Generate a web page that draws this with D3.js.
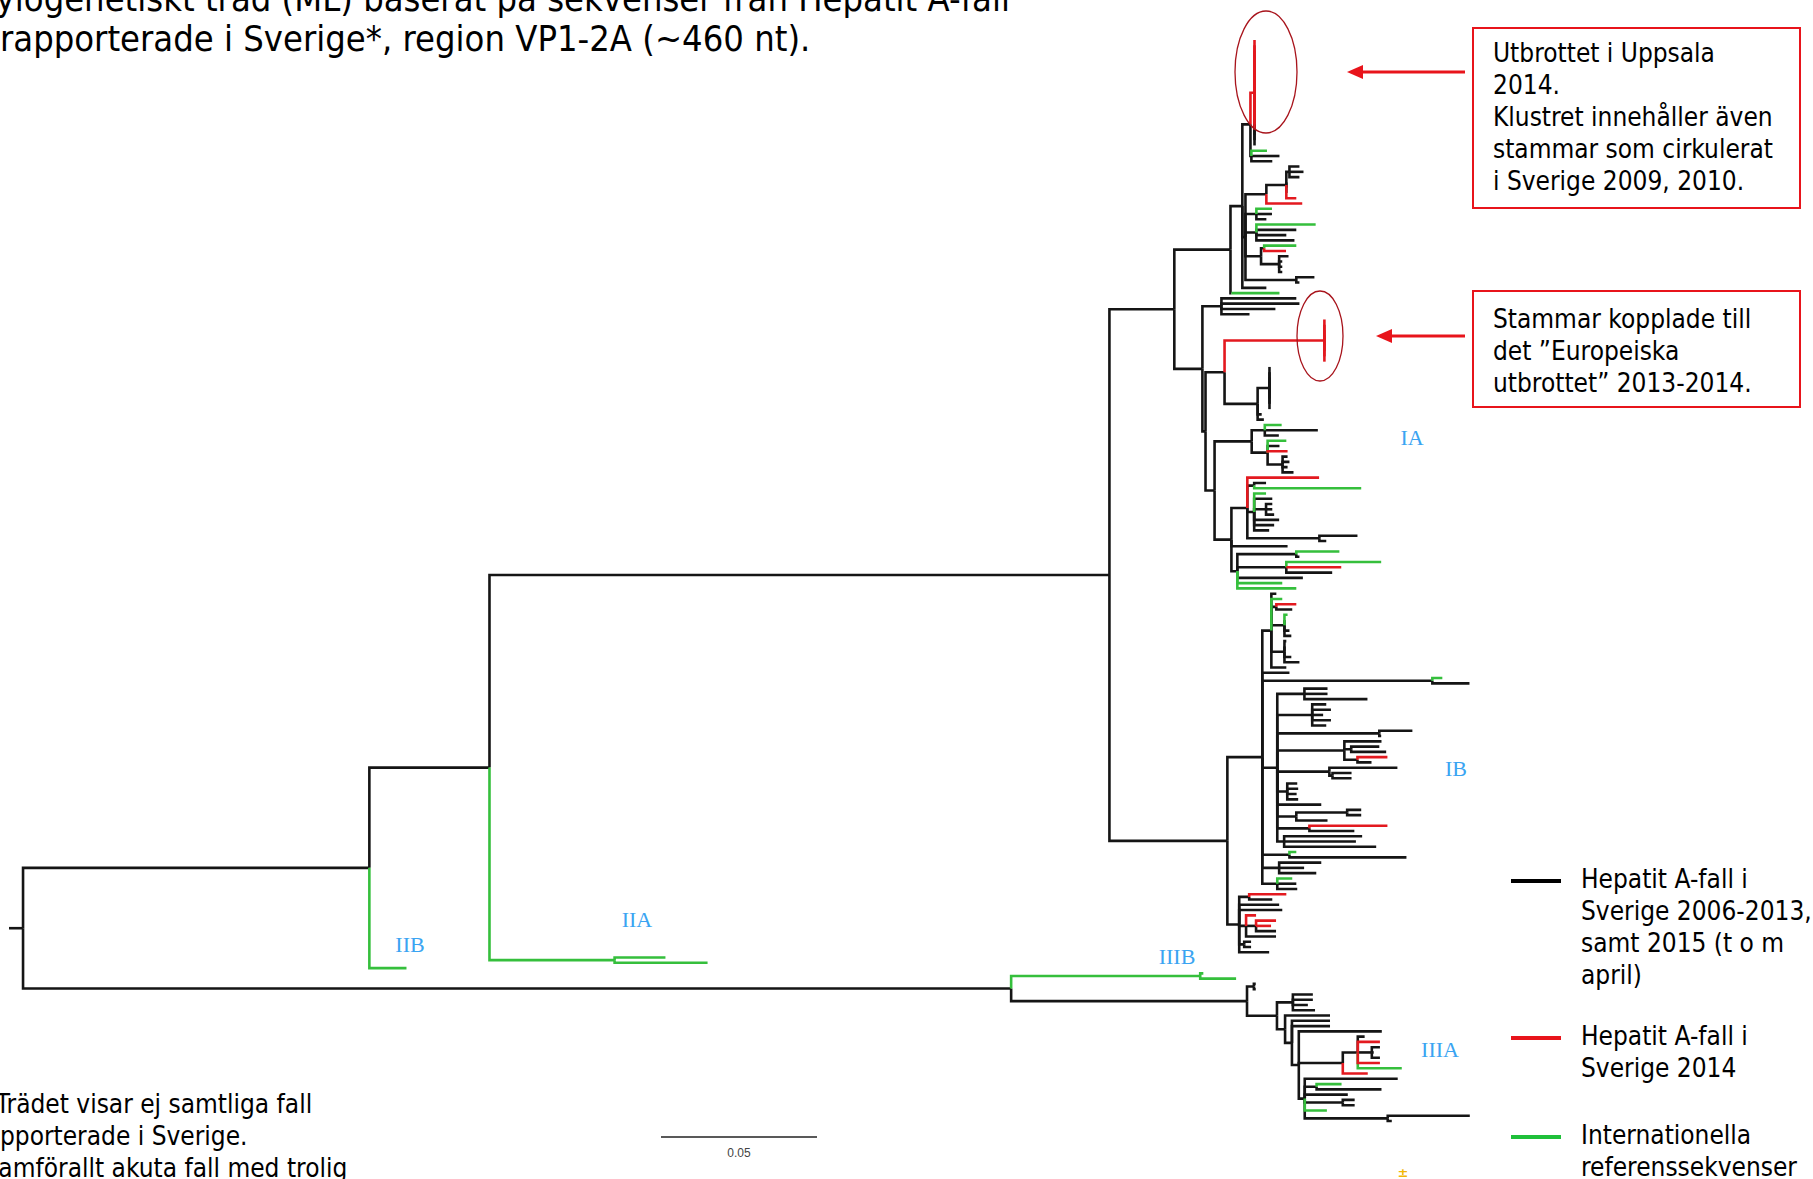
<!DOCTYPE html>
<html>
<head>
<meta charset="utf-8">
<script src="https://cdn.jsdelivr.net/npm/d3@7"></script>
<style>
html,body{margin:0;padding:0;background:#fff;overflow:hidden}
</style>
</head>
<body>
<svg id="chart" width="1813" height="1179"></svg>
<script>
// ================= DATA =================
// Tree in Newick form. Branch lengths: substitutions/site.
// Leaf / branch codes: k = Hepatit A-fall i Sverige 2006-2013, 2015;  r = Sverige 2014;  g = internationell referens.
// "*n" = n identical sequences.

// --- genotype IA ---
const ia_uppsala = "(r*18:0,k*3:0)r:0.0013";
const ia_small   = "(g:0.005,k:0.009,k:0.0067)k:0.0003";
const ia_N1      = `(${ia_uppsala},${ia_small})k:0.0026`;
const ia_RF      = "(((k:0.0032,k:0.0045,k:0.0032)k:0.001,k*3:0,r:0.0032)k:0.0064,r:0.0115)k:0.0067";
const ia_S1      = `(${ia_RF},(g:0.005,k:0.005,k:0.0032)k:0.0035,(g:0.019,k:0.0128,k:0.0096,k:0.0122)k:0.0035,((g:0.0103,r:0.007)k:0.001,(k:0.003,k:0.001,k:0.001,k:0.001)k:0.0058)k:0.005,(k:0.0058,k:0.001)k:0.0163)k:0.001`;
const ia_P1      = `((${ia_N1},${ia_S1},k:0.0077)k:0.0038,(g:0.0154)k:0.0003)k:0.018`;
const ia_T       = "(k:0.024,k:0.025,k:0.0173,k:0.009)k:0.0061";
const ia_europe  = "(r*9:0)r:0.032";
const ia_X       = "((k*9:0)k:0.0038,k:0.0013,k:0.002)k:0.0106";
const ia_W       = `(${ia_europe},${ia_X})k:0.0061`;
const ia_Z1      = "((g:0.0054,k:0.017,k:0.0045)k:0.0042,(g:0.006,k:0.0038,r:0.0064,(k:0.0016,k:0.0022,k:0.0016,k:0.0035)k:0.0048)k:0.0051)k:0.0119";
const ia_Z3      = "(r:0.023,(k:0.0038,g:0.0343)k:0.0022,(g:0.0038,k:0.0058,(k:0.002,k:0.002,k:0.0026)k:0.0038,k:0.008,k:0.0064,k:0.0048)k:0.0022,(k:0.0122,k:0.0022)k:0.0231)k:0.0051";
const ia_Z4      = "((g:0.0138,k:0.001)k:0.0189,(g:0.0304,r:0.0176,k:0.0147)k:0.0157,k:0.021,g:0.0144,g:0.0189)k:0.0019";
const ia_Z2      = `(${ia_Z3},k:0.018,${ia_Z4})k:0.0054`;
const ia_V       = `(${ia_Z1},${ia_Z2})k:0.0029`;
const ia_P2      = `(${ia_T},(${ia_W},${ia_V})k:0.001)k:0.009`;
const cladeIA    = `(${ia_P1},${ia_P2})k:0.0208`;

// --- genotype IB ---
const ib_G    = "(k:0.0016,g:0.0035,(r:0.0064,k:0.0051)k:0.0016,(g:0.001,k*2:0,k:0.0016,k:0.0022)k:0.0042,(k:0.0006,k*2:0,k:0.0022,k:0.0048)k:0.0042,k:0.0048)k:0.0029";
const ib_long = "(g:0.0032,k:0.0119)k:0.0545";
const ib_H    = "((k*2:0.0074,k:0.0202)k:0.0087,(k:0.0045,k:0.006,k:0.0035,k:0.006,k:0.0045)k:0.0112,(k:0.0106,k:0.0006)k:0.0327,(k:0.0119,(k:0.009,k:0.0112)k:0.0022,(r:0.0096,k:0.0045)k:0.0042)k:0.0215,(k:0.0218,(k:0.0061,k:0.0061)k:0.001)k:0.0167,(k:0.0032,k:0.0035,k:0.003,k:0.0035)k:0.0032,k:0.0141,((k:0.0045,k:0.0045)k:0.0163,k:0.01)k:0.0061,(r:0.025,k:0.0144)k:0.0103,(k:0.025,k:0.023,k:0.0295)k:0.0022)k:0.0048";
const ib_F    = `(${ib_G},k:0.0087,${ib_long},${ib_H},(g:0.0022,k:0.0375)k:0.0087,(k:0.0135,k:0.008,k:0.0119)k:0.0054,(g:0.0048,k:0.0061,k:0.0064)k:0.0048)k:0.0112`;
const ib_low  = "((r:0.0119,k:0.0074)k:0.0032,k:0.0128,k:0.0138,(r:0.0032,(r:0.0064,r:0.0048,k:0.0064)k:0.0032,k:0.0096)k:0.0022,(k:0.0022,k:0.0022)k:0.0016,k:0.0096)k:0.0038";
const cladeIB = `(${ib_F},${ib_low})k:0.0378`;

// --- genotypes II ---
const cladeIIA = "(g:0.0163,g:0.0298)g:0.0401";
const cladeIIB = "g:0.0119";

// --- genotype III ---
const cladeIIIB = "(g:0.001,g:0.0115)g:0.0606";
const iiia_N6  = "(k:0.0022,r:0.0071,(k:0.0026,k:0.0006,k:0.0026)k:0.0045,r:0.0071,g:0.0141)k:0.0048";
const iiia_N7  = "(k:0.0298,(g:0.008,k:0.0208)k:0.0038,k:0.0138,(k:0.0038,k:0.0038)k:0.0122,g:0.0071,(k:0.0263,k:0.0013)k:0.0266)k:0.0019";
const iiia_N4  = `(k:0.0266,(${iiia_N6},r:0.008)k:0.0141,${iiia_N7})k:0.0022`;
const iiia_N1  = `((k:0.0064,k:0.0064,k:0.0048,k:0.0071)k:0.0051,(k:0.0144,(k*2:0.0122,${iiia_N4})k:0.0022)k:0.0026)k:0.0096`;
const cladeIIIA = `((k:0.0006,k:0.0006)k:0.0022,${iiia_N1})k:0.0756`;

const treeNewick = `((((${cladeIA},${cladeIB})k:0.1987,${cladeIIA})k:0.0385,${cladeIIB})k:0.111,(${cladeIIIB},${cladeIIIA})k:0.3167)k:0.0045;`;

const cladeLabels = ["IA", "IB", "IIA", "IIB", "IIIB", "IIIA"];
const scaleBarValue = 0.05;
const scaleBarLabel = "0.05";
const legendCodes = ["k", "r", "g"];
const legendLabels = [
  ["Hepatit A-fall i", "Sverige 2006-2013,", "samt 2015 (t o m", "april)"],
  ["Hepatit A-fall i", "Sverige 2014"],
  ["Internationella", "referenssekvenser"]
];
const titleLines = ["Fylogenetiskt träd (ML) baserat på sekvenser från Hepatit A-fall",
                    "rapporterade i Sverige*, region VP1-2A (~460 nt)."];
const footnoteLines = ["*Trädet visar ej samtliga fall", "rapporterade i Sverige.", "Framförallt akuta fall med trolig"];
const note1Lines = ["Utbrottet i Uppsala", "2014.", "Klustret innehåller även", "stammar som cirkulerat", "i Sverige 2009, 2010."];
const note2Lines = ["Stammar kopplade till", "det \u201DEuropeiska", "utbrottet\u201D 2013-2014."];

// ================= STYLE / LAYOUT =================
const colorOf = { k: "#151515", r: "#e3191f", g: "#35bf3c" };
const legendColor = { k: "#000000", r: "#e8141b", g: "#1fc03a" };
const drawOrder = { k: 0, g: 1, r: 2 };
const labelBlue = "#3aa4f2";
const noteRed = "#e8141b";
const textFont = "'DejaVu Sans', Verdana, sans-serif";

// ================= PARSER =================
function parseNewick(str) {
  const s = str.replace(/\s+/g, "").replace(/;$/, "");
  let i = 0;
  function node() {
    let children = null;
    if (s[i] === "(") {
      i++; children = [];
      for (;;) {
        children.push(...node());
        if (s[i] === ",") { i++; continue; }
        if (s[i] === ")") { i++; break; }
        throw new Error("Newick error at " + i);
      }
    }
    let label = "";
    while (i < s.length && !",():".includes(s[i])) label += s[i++];
    let len = 0;
    if (s[i] === ":") {
      i++; let num = "";
      while (i < s.length && !",()".includes(s[i])) num += s[i++];
      len = +num;
    }
    const parts = label.split("*");
    const code = parts[0] || "k";
    const mult = parts[1] ? +parts[1] : 1;
    const out = [];
    for (let m = 0; m < mult; m++) out.push({ code, len, children });
    return out;
  }
  return node()[0];
}

// ================= LAYOUT =================
const root = d3.hierarchy(parseNewick(treeNewick), d => d.children);
root.each(d => { d.dist = (d.parent ? d.parent.dist : 0) + d.data.len; });
const leaves = root.leaves();
leaves.forEach((d, i) => d.slot = i);
root.eachAfter(d => {
  if (d.children) d.slot = (d.children[0].slot + d.children[d.children.length - 1].slot) / 2;
});

const x = d3.scaleLinear().domain([0, scaleBarValue]).range([9, 165]);
const y = d3.scaleLinear().domain([0, leaves.length - 1]).range([40, 1121]);

const svg = d3.select("#chart");
svg.append("rect").attr("width", 1813).attr("height", 1179).attr("fill", "#fff");

// ---- tree ----
const gTree = svg.append("g").attr("fill", "none").attr("stroke-width", 2.6).attr("stroke-linejoin", "miter");
gTree.append("path")
  .attr("d", `M${x(0)},${y(root.slot)}H${x(root.dist)}`)
  .attr("stroke", colorOf.k);
const links = root.links().sort((a, b) => drawOrder[a.target.data.code] - drawOrder[b.target.data.code]);
gTree.selectAll("path.link").data(links).join("path")
  .attr("class", "link")
  .attr("d", l => `M${x(l.source.dist)},${y(l.source.slot)}V${y(l.target.slot)}H${x(l.target.dist)}`)
  .attr("stroke", l => colorOf[l.target.data.code]);

// ---- scale bar ----
const sbX = 661, sbY = 1137;
svg.append("line").attr("x1", sbX).attr("x2", sbX + x(scaleBarValue) - x(0))
  .attr("y1", sbY).attr("y2", sbY).attr("stroke", "#222").attr("stroke-width", 1.6);
svg.append("text").attr("x", sbX + (x(scaleBarValue) - x(0)) / 2).attr("y", 1157)
  .attr("text-anchor", "middle").attr("font-family", "'Liberation Sans', Arial, sans-serif")
  .attr("font-size", 12).attr("fill", "#444").text(scaleBarLabel);

// ---- clade labels ----
const cladeLabelPos = [[1412, 445], [1456, 776], [637, 927], [410, 952], [1177, 964], [1440, 1057]];
svg.append("g").selectAll("text").data(cladeLabels).join("text")
  .attr("x", (d, i) => cladeLabelPos[i][0]).attr("y", (d, i) => cladeLabelPos[i][1])
  .attr("text-anchor", "middle")
  .attr("font-family", "'Liberation Serif', 'Times New Roman', serif")
  .attr("font-size", 22).attr("fill", labelBlue).text(d => d);

// ---- text helper ----
function lines(arr, xs, y0, dy, size, color) {
  const g = svg.append("g");
  arr.forEach((t, i) => {
    const xx = Array.isArray(xs) ? xs[i] : xs;
    g.append("text")
      .attr("transform", `translate(${xx},${y0 + i * dy}) scale(0.9,1)`)
      .attr("font-family", textFont).attr("font-size", size)
      .attr("fill", color || "#000").text(t);
  });
}

// title (partly outside the page, as in the reference)
lines(titleLines, [-20, 0], 11, 40, 36);
// footnote (left edge cut, as in the reference)
lines(footnoteLines, [-16, -24, -23], 1113, 32, 26);

// ---- annotation boxes ----
svg.append("rect").attr("x", 1473).attr("y", 28).attr("width", 327).attr("height", 180)
  .attr("fill", "#fff").attr("stroke", noteRed).attr("stroke-width", 2);
svg.append("rect").attr("x", 1473).attr("y", 291).attr("width", 327).attr("height", 116)
  .attr("fill", "#fff").attr("stroke", noteRed).attr("stroke-width", 2);
lines(note1Lines, 1493, 62, 32, 26);
lines(note2Lines, 1493, 328, 32, 26);

// arrows
function arrow(x1, x2, yy) {
  svg.append("line").attr("x1", x1).attr("x2", x2 + 12).attr("y1", yy).attr("y2", yy)
    .attr("stroke", noteRed).attr("stroke-width", 3);
  svg.append("path").attr("d", `M${x2},${yy}L${x2 + 16},${yy - 7}L${x2 + 16},${yy + 7}Z`).attr("fill", noteRed);
}
arrow(1465, 1347, 72);
arrow(1465, 1376, 336);

// ellipses around clusters
svg.append("ellipse").attr("cx", 1266).attr("cy", 72).attr("rx", 31).attr("ry", 61)
  .attr("fill", "none").attr("stroke", "#a8141c").attr("stroke-width", 1.3);
svg.append("ellipse").attr("cx", 1320).attr("cy", 336).attr("rx", 23).attr("ry", 45)
  .attr("fill", "none").attr("stroke", "#a8141c").attr("stroke-width", 1.3);

// ---- legend ----
const legendY = [881, 1038, 1137];
legendCodes.forEach((c, i) => {
  svg.append("line").attr("x1", 1511).attr("x2", 1561).attr("y1", legendY[i]).attr("y2", legendY[i])
    .attr("stroke", legendColor[c]).attr("stroke-width", 4);
  lines(legendLabels[i], 1581, legendY[i] + 7, 32, 26);
});

// small marker at bottom
svg.append("text").attr("x", 1403).attr("y", 1177).attr("text-anchor", "middle")
  .attr("font-family", textFont).attr("font-size", 13).attr("font-weight", "bold")
  .attr("fill", "#f2b705").text("\u00B1");
</script>
</body>
</html>
